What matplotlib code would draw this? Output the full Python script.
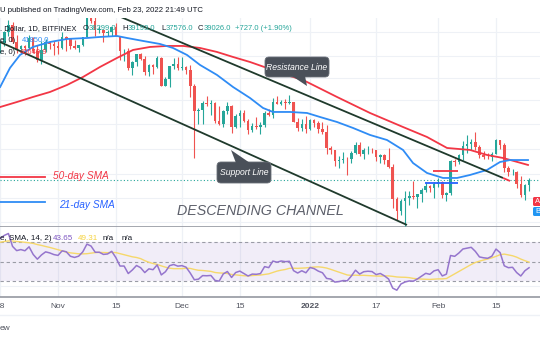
import numpy as np
import pandas as pd
import matplotlib
matplotlib.use("Agg")
import matplotlib.pyplot as plt
from matplotlib.patches import FancyBboxPatch, Polygon

plt.rcParams['font.family'] = ['Liberation Sans', 'DejaVu Sans']

# daily closes before the visible window (Aug 30 - Oct 17 2021), used for the RSI warm-up
hist_close = [47.0, 47.1, 48.8, 49.3, 50.0, 49.9, 51.8, 52.7, 46.9, 46.1, 46.4, 44.9, 45.2, 46.1,
              44.9, 47.1, 48.2, 47.8, 47.3, 48.3, 47.3, 43.0, 40.7, 43.6, 44.9, 42.8, 42.7, 43.2,
              42.2, 41.0, 41.5, 43.8, 48.1, 47.7, 48.2, 49.2, 51.5, 55.3, 53.8, 53.9, 55.0, 54.7,
              57.5, 56.0, 57.4, 57.4, 61.7, 60.9, 61.5]

# visible candles Oct 18 2021 - Feb 23 2022 (thousand USD): open, high, low, close
ohlc = [
    (61.5, 62.7, 59.9, 62.0), (62.0, 64.5, 61.4, 64.3), (64.3, 67.0, 63.5, 66.0), (66.0, 66.6, 62.0, 62.2),
    (62.2, 63.7, 60.0, 60.7), (60.7, 61.7, 59.7, 61.3), (61.3, 61.5, 59.6, 60.9), (60.9, 63.7, 60.7, 63.1),
    (63.1, 63.3, 59.9, 60.4), (60.4, 61.5, 58.1, 58.5), (58.5, 62.5, 57.8, 60.6), (60.6, 62.9, 60.2, 62.3),
    (62.3, 62.4, 60.8, 61.9), (61.9, 62.4, 59.5, 61.3), (61.3, 62.4, 59.7, 61.0), (61.0, 64.3, 60.7, 63.2),
    (63.2, 63.5, 60.4, 62.9), (62.9, 63.1, 60.7, 61.4), (61.4, 62.6, 60.8, 61.0), (61.0, 61.6, 60.1, 61.5),
    (61.5, 63.3, 61.3, 63.3), (63.3, 67.8, 63.2, 67.5), (67.5, 68.5, 66.4, 66.9), (66.9, 69.0, 63.4, 64.9),
    (64.9, 65.6, 64.2, 64.9), (64.9, 65.0, 62.3, 64.2), (64.2, 64.9, 63.4, 64.4), (64.4, 65.5, 63.6, 65.5),
    (65.5, 66.3, 63.5, 63.6), (63.6, 63.6, 58.6, 60.4), (60.4, 60.8, 58.4, 60.4), (60.4, 60.9, 56.5, 56.9),
    (56.9, 58.3, 55.6, 58.1), (58.1, 59.8, 57.4, 59.7), (59.7, 60.0, 58.5, 58.7), (58.7, 59.3, 55.7, 56.3),
    (56.3, 57.8, 55.4, 57.6), (57.6, 57.8, 55.9, 57.2), (57.2, 59.4, 57.0, 58.9), (58.9, 59.2, 53.6, 53.6),
    (53.6, 55.3, 53.6, 54.8), (54.8, 57.4, 53.4, 57.3), (57.3, 58.9, 56.8, 57.8), (57.8, 59.2, 56.6, 57.0),
    (57.0, 59.1, 56.5, 57.2), (57.2, 57.4, 55.9, 56.5), (56.5, 57.6, 51.7, 53.6), (53.6, 53.9, 42.0, 49.2),
    (49.2, 49.7, 47.1, 49.4), (49.4, 50.9, 47.1, 50.6), (50.6, 51.9, 50.1, 50.5), (50.5, 51.2, 48.6, 50.6),
    (50.6, 50.8, 47.3, 47.6), (47.6, 50.1, 47.0, 47.1), (47.1, 49.5, 46.6, 49.3), (49.3, 50.8, 48.7, 50.1),
    (50.1, 50.2, 45.7, 46.7), (46.7, 48.7, 46.5, 48.4), (48.4, 49.5, 46.6, 48.9), (48.9, 49.4, 47.5, 47.6),
    (47.6, 47.9, 45.5, 46.2), (46.2, 47.3, 45.9, 46.8), (46.8, 48.3, 46.4, 46.7), (46.7, 47.5, 45.6, 46.9),
    (46.9, 49.3, 46.6, 49.0), (49.0, 49.6, 48.4, 48.6), (48.6, 51.4, 48.1, 50.8), (50.8, 51.8, 50.4, 50.4),
    (50.4, 51.2, 50.2, 50.8), (50.8, 51.3, 49.6, 50.6), (50.6, 52.0, 50.5, 50.7), (50.7, 50.7, 47.4, 47.5),
    (47.5, 48.1, 46.1, 46.5), (46.5, 47.9, 46.0, 47.1), (47.1, 48.5, 45.7, 46.3), (46.3, 47.9, 46.2, 47.7),
    (47.7, 47.9, 46.7, 47.3), (47.3, 47.6, 45.7, 46.4), (46.4, 47.5, 45.5, 45.8), (45.8, 47.0, 42.6, 43.4),
    (43.4, 43.7, 42.5, 43.1), (43.1, 43.1, 40.9, 41.6), (41.6, 42.3, 40.6, 41.7), (41.7, 42.8, 41.3, 41.9),
    (41.9, 42.2, 39.7, 41.8), (41.8, 43.0, 41.3, 42.7), (42.7, 44.3, 42.5, 43.9), (43.9, 44.4, 42.3, 42.6),
    (42.6, 43.4, 41.8, 43.1), (43.1, 43.8, 42.6, 43.2), (43.2, 43.5, 42.7, 43.1), (43.1, 43.2, 41.6, 42.2),
    (42.2, 42.6, 41.3, 42.4), (42.4, 42.5, 41.1, 41.7), (41.7, 43.4, 40.6, 40.7), (40.7, 41.1, 35.5, 36.5),
    (36.5, 36.8, 34.0, 35.1), (35.1, 36.5, 34.6, 36.3), (36.3, 37.5, 33.4, 36.7), (36.7, 37.5, 35.8, 36.9),
    (36.9, 38.9, 36.5, 36.8), (36.8, 37.2, 35.5, 37.2), (37.2, 38.0, 36.2, 37.7), (37.7, 38.7, 37.4, 38.2),
    (38.2, 38.3, 37.4, 37.9), (37.9, 38.7, 36.7, 38.5), (38.5, 39.2, 38.1, 38.7), (38.7, 38.9, 36.7, 37.0),
    (37.0, 37.4, 36.3, 37.3), (37.3, 41.7, 37.1, 41.6), (41.6, 41.9, 40.9, 41.4), (41.4, 42.6, 41.2, 42.4),
    (42.4, 44.5, 41.7, 43.8), (43.8, 45.4, 42.7, 44.1), (44.1, 44.8, 43.2, 44.4), (44.4, 45.8, 43.2, 43.6),
    (43.6, 43.9, 42.0, 42.4), (42.4, 43.0, 41.8, 42.2), (42.2, 42.7, 41.9, 42.1), (42.1, 42.9, 41.6, 42.6),
    (42.6, 44.8, 42.5, 44.6), (44.6, 44.6, 43.3, 43.9), (43.9, 44.2, 40.1, 40.6), (40.6, 40.9, 39.5, 40.0),
    (40.0, 40.5, 39.7, 40.1), (40.1, 40.2, 38.0, 38.4), (38.4, 39.5, 36.8, 37.1), (37.1, 38.4, 36.4, 38.3),
    (38.299, 39.193, 37.576, 39.026),
]

# moving averages (day index, price k)
sma21_pts = [(0, 53.43), (2.38, 56.99), (4.8, 59.55), (7.95, 61.19), (12.06, 62.23), (16.18, 62.87),
             (21.02, 63.08), (24.17, 63.30), (28.28, 63.51), (30.7, 63.08), (34.57, 62.45),
             (38.69, 61.81), (41.83, 60.98), (45.22, 59.55), (48.37, 57.57), (52.48, 55.65),
             (56.35, 53.43), (60.47, 51.47), (63.61, 49.76), (66.03, 49.09), (70.15, 49.09),
             (74.26, 48.92), (77.41, 48.26), (81.52, 47.45), (85.39, 46.50), (89.51, 45.41),
             (93.62, 44.64), (97.5, 43.16), (99.92, 41.29), (103.3, 39.92), (107.18, 39.25),
             (110.57, 39.25), (113.71, 39.65), (117.83, 40.33), (120.97, 41.43), (123.39, 41.71),
             (127.75, 41.71)]
sma50_pts = [(0, 49.92), (4.08, 50.78), (7.95, 51.65), (12.06, 52.53), (16.18, 53.79), (20.05, 55.27),
             (24.17, 57.18), (28.28, 58.95), (32.15, 60.57), (36.27, 61.19), (40.38, 61.40),
             (44.25, 61.40), (48.37, 60.98), (52.48, 60.16), (56.35, 59.15), (60.47, 58.15),
             (64.58, 56.99), (67.73, 56.02), (73.3, 54.71), (81.52, 51.65), (89.51, 48.92),
             (97.5, 46.65), (103.3, 45.10), (108.15, 43.45), (113.71, 43.16), (117.83, 42.43),
             (121.7, 42.0), (127.75, 41.02)]

tick_days = [0, 14, 28, 44, 58, 75, 91, 106, 120]
tick_labels = ["18", "Nov", "15", "Dec", "15", "2022", "17", "Feb", "15"]

# drawn trendlines (day index, price k)
support_line = [(-0.04, 62.23), (98.46, 33.47)]
resistance_line = [(26.6, 68.78), (121.7, 39.25)]
resistance_tail = [(121.7, 39.25), (123.4, 38.85)]
marker_red = [(104.8, 40.19), (110.8, 40.19)]
marker_blue = [(102.8, 38.59), (110.8, 38.59)]

df = pd.DataFrame(ohlc, columns=["o", "h", "l", "c"])
n = len(df)
days = np.arange(n)
closes = pd.Series(hist_close + list(df.c))
nh = len(hist_close)
delta = closes.diff()
up = delta.clip(lower=0).ewm(alpha=1/14, adjust=False).mean()
dn = (-delta.clip(upper=0)).ewm(alpha=1/14, adjust=False).mean()
rsi_full = 100 - 100/(1 + up/dn)
rsi_ma = rsi_full.rolling(14).mean().values[nh:]
rsi = rsi_full.values[nh:]

UP, DOWN = "#26a69a", "#ef5350"
GRID = "#eef1f6"

fig = plt.figure(figsize=(5.4, 3.4), dpi=100)
ax = fig.add_axes([0, 113/340, 1, 209/340])
ax2 = fig.add_axes([0, 43/340, 1, 70/340])

x0, x1 = -0.036, 130.65
for a in (ax, ax2):
    a.set_xlim(x0, x1)
    a.set_xticks([])
    a.set_yticks([])
    for s in ("top", "left", "right"):
        a.spines[s].set_visible(False)
    a.spines["bottom"].set_color("#9598a1")
    a.spines["bottom"].set_linewidth(1.2)
    for t in tick_days:
        a.axvline(t, color=GRID, lw=0.9, zorder=0)

ax.set_yscale("log")
ax.set_ylim(33.24, 67.5)
ax.minorticks_off()
ax.set_yticks([])
for yp in (32, 56, 78, 100, 124, 149, 174, 198, 222):
    f = (227 - yp) / 209
    ax.plot([0, 1], [f, f], color=GRID, lw=0.8, zorder=0, transform=ax.transAxes)

# candles
col = np.where(df.c >= df.o, UP, DOWN)
ax.vlines(days, df.l, df.h, colors=col, lw=0.8, zorder=3)
ax.bar(days, (df.c - df.o).abs().clip(lower=0.05), bottom=np.minimum(df.o, df.c),
       width=0.62, color=col, zorder=4)

for pts, c in ((sma50_pts, "#f23645"), (sma21_pts, "#2f8cf5")):
    xs, ys = zip(*pts)
    ax.plot(xs, ys, color=c, lw=1.3, zorder=5)

for line, c in ((support_line, "#1f3a2c"), (resistance_line, "#1f3a2c"),
                (resistance_tail, "#f23645"), (marker_red, "#f23645"), (marker_blue, "#2962ff")):
    xs, ys = zip(*line)
    ax.plot(xs, ys, color=c, lw=1.3, zorder=6, solid_capstyle="butt")

ax.axhline(df.c.iloc[-1], color=UP, lw=0.8, ls=(0, (1, 2)), zorder=2)

# annotations drawn in the main pane
ax.plot([0, 0.083], [0.239, 0.239], color="#f23645", lw=1.3, transform=ax.transAxes)
ax.plot([0, 0.083], [0.120, 0.120], color="#2f8cf5", lw=1.3, transform=ax.transAxes)
ax.text(0.098, 0.246, "50-day SMA", color="#f23645", fontsize=7.3, style="italic",
        transform=ax.transAxes, va="center")
ax.text(0.109, 0.105, "21-day SMA", color="#2962ff", fontsize=7.3, style="italic",
        transform=ax.transAxes, va="center")
ax.text(0.328, 0.077, "DESCENDING CHANNEL", color="#5d606b", fontsize=10.3, style="italic",
        transform=ax.transAxes, va="center")

# RSI pane
ax2.set_ylim(13.6, 85.4)
ax2.axhspan(30, 70, color="#7e57c2", alpha=0.1, lw=0)
ax2.axhline(24.5, color=GRID, lw=0.8, zorder=0)
for lvl in (70, 50, 30):
    ax2.axhline(lvl, color="#9a9ca6", lw=0.8, ls=(0, (3, 2.5)))
ax2.plot(days, rsi_ma, color="#f6d86b", lw=1.0)
ax2.plot(days, rsi, color="#9575cd", lw=1.1)

# overlay in pixel coordinates for header texts, callouts, axis labels
ov = fig.add_axes([0, 0, 1, 1], facecolor="none")
ov.set_xlim(0, 540)
ov.set_ylim(340, 0)
ov.axis("off")

def callout(box, tri, label):
    bx, by, bw, bh = box
    ov.add_patch(FancyBboxPatch((bx, by), bw, bh, boxstyle="round,pad=0,rounding_size=4",
                                fc="#4a5059", ec="#6b7079", lw=0.6))
    ov.add_patch(Polygon(tri, closed=True, fc="#4a5059", ec="none"))
    ov.text(bx + bw/2, by + bh/2, label, color="white", fontsize=6.2, style="italic",
            ha="center", va="center")

callout((265, 57, 64, 20), [(292, 76), (305, 76), (307, 86)], "Resistance Line")
callout((217, 162, 54, 21), [(236, 163), (250, 163), (231, 150)], "Support Line")

dark = "#131722"
fs = 5.5
ov.text(0, 10, "U published on TradingView.com, Feb 23, 2022 21:49 UTC", color=dark,
        fontsize=5.6, va="center")
ov.text(0, 29, ". Dollar, 1D, BITFINEX", color=dark, fontsize=fs, va="center")
hdr = [(83, "O", 5.9, "38299.0"), (122, "H", 5.5, "39193.0"), (161, "L", 4.3, "37576.0"),
       (198, "C", 5.5, "39026.0")]
for xp, k, off, v in hdr:
    ov.text(xp, 29, k, color=dark, fontsize=fs, va="center")
    ov.text(xp + off, 29, v, color=UP, fontsize=fs, va="center")
ov.text(235, 29, "+727.0 (+1.90%)", color=UP, fontsize=fs, va="center")
ov.text(0, 41, "e, 0)", color=dark, fontsize=fs, va="center")
ov.text(22, 41, "41850.0", color="#2f8cf5", fontsize=fs, va="center")
ov.text(0, 53, "e, 0)", color=dark, fontsize=fs, va="center")
ov.text(20, 53, "40649.9", color="#f23645", fontsize=fs, va="center")

ov.text(0, 238, "e, SMA, 14, 2)", color=dark, fontsize=5.8, va="center")
ov.text(53, 238, "43.65", color="#7e57c2", fontsize=5.8, va="center")
ov.text(78, 238, "49.31", color="#f5d33f", fontsize=5.8, va="center")
ov.text(103, 238, "n/a", color=dark, fontsize=5.8, va="center")
ov.text(122, 238, "n/a", color=dark, fontsize=5.8, va="center")

for d, lab in zip(tick_days, tick_labels):
    xp = 0.15 + 4.132 * d
    ov.text(xp, 307, lab, color="#50535e", fontsize=6.0, ha="center", va="center",
            fontweight="bold" if lab == "2022" else "normal")
ov.plot([0, 540], [315, 315], color="#eef1f6", lw=1.0)
ov.text(0, 328, "ew", color="#50535e", fontsize=6.0, va="center")

ov.add_patch(FancyBboxPatch((533, 197), 10, 9, boxstyle="round,pad=0,rounding_size=1.5",
                            fc="#f23645", ec="none"))
ov.text(535, 201.5, "A", color="white", fontsize=5.5, va="center")
ov.add_patch(FancyBboxPatch((533, 207), 10, 9, boxstyle="round,pad=0,rounding_size=1.5",
                            fc="#2196f3", ec="none"))
ov.text(535, 211.5, "B", color="white", fontsize=5.5, va="center")

fig.savefig("out.png", dpi=100)
